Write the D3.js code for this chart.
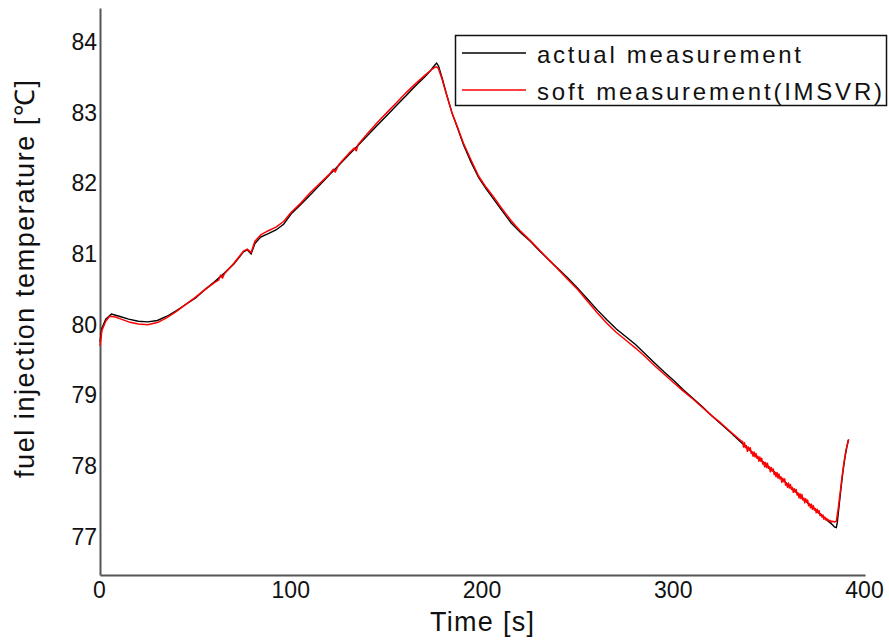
<!DOCTYPE html>
<html><head><meta charset="utf-8">
<script src="https://cdn.jsdelivr.net/npm/d3@7"></script>
<style>body{margin:0;background:#fff}svg{display:block}text{font-family:Arial,"Liberation Sans",sans-serif;fill:#111}</style>
</head><body><svg id="c" width="889" height="643"></svg>
<script>
const xTicks=[0,100,200,300,400];
const yTicks=[77,78,79,80,81,82,83,84];
const seriesNames=["actual measurement","soft measurement(IMSVR)"];
const timeActual=[0,1,3,6,10,15,20,25,30,35,40,45,50,55,60,65,70,75,77,79,81,84,88,92,96,100,105,110,115,120,125,130,135,140,145,150,155,160,165,170,173,175,176,177,179,181,184,187,190,194,198,202,206,210,215,220,225,230,235,240,245,250,255,260,265,270,275,280,285,290,295,300,305,310,315,320,325,330,335,340,345,350,355,360,365,370,375,380,383,384,385,385.5,386.5,387.5,388.5,389.5,390.5,391.3];
const tempActual=[79.76,79.95,80.08,80.15,80.12,80.08,80.05,80.04,80.06,80.12,80.20,80.29,80.38,80.50,80.61,80.73,80.86,81.03,81.06,81.00,81.15,81.24,81.29,81.34,81.42,81.57,81.70,81.84,81.98,82.12,82.26,82.40,82.54,82.68,82.82,82.96,83.10,83.24,83.38,83.51,83.60,83.67,83.70,83.66,83.48,83.28,83.00,82.78,82.55,82.30,82.08,81.92,81.77,81.62,81.44,81.30,81.18,81.04,80.91,80.78,80.65,80.51,80.36,80.21,80.07,79.94,79.83,79.72,79.59,79.46,79.33,79.21,79.08,78.96,78.84,78.71,78.59,78.47,78.34,78.22,78.10,77.98,77.86,77.73,77.61,77.48,77.36,77.24,77.17,77.14,77.13,77.20,77.45,77.70,77.93,78.12,78.27,78.37];
const timeSoft=[0,1,3,5,8,10,15,20,25,30,35,40,45,50,55,60,62,63,64,65,70,75,77,79,81,84,88,92,96,100,105,110,115,120,122,123,125,130,133,134,135,140,145,150,155,160,165,170,173,175,176,177,179,181,184,187,190,194,198,202,206,210,215,220,225,230,235,240,245,250,255,260,265,270,275,280,285,290,295,300,305,310,315,320,325,330,335,
336,336.5,337,337.5,338,338.5,339,339.5,340,340.5,341,341.5,342,342.5,343,343.5,344,344.5,345,345.5,346,346.5,347,347.5,348,348.5,349,349.5,350,350.5,351,351.5,352,352.5,353,353.5,354,354.5,355,355.5,356,356.5,357,357.5,358,358.5,359,359.5,360,360.5,361,361.5,362,362.5,363,363.5,364,364.5,365,365.5,366,366.5,367,367.5,368,368.5,369,369.5,370,370.5,371,371.5,372,372.5,373,373.5,374,374.5,375,375.5,376,376.5,377,377.5,378,378.5,379,379.5,380,380.5,381,381.5,382,382.5,383,384,385,386,387,388,389,390,391,391.5];
const tempSoft=[79.70,79.92,80.05,80.12,80.11,80.09,80.04,80.01,80.00,80.03,80.10,80.19,80.29,80.39,80.50,80.60,80.63,80.70,80.66,80.72,80.87,81.04,81.07,81.02,81.18,81.27,81.33,81.38,81.46,81.59,81.72,81.87,82.00,82.13,82.20,82.16,82.27,82.42,82.50,82.46,82.55,82.71,82.86,83.00,83.14,83.28,83.41,83.53,83.60,83.64,83.65,83.62,83.46,83.27,83.00,82.79,82.57,82.33,82.10,81.94,81.80,81.65,81.47,81.32,81.19,81.05,80.91,80.77,80.63,80.49,80.33,80.17,80.02,79.89,79.78,79.67,79.55,79.42,79.30,79.18,79.06,78.95,78.83,78.71,78.60,78.48,78.36,
78.35,78.27,78.33,78.26,78.29,78.21,78.27,78.22,78.26,78.18,78.20,78.14,78.20,78.13,78.18,78.11,78.14,78.07,78.13,78.07,78.11,78.03,78.06,77.99,78.05,77.98,78.04,77.97,77.99,77.92,77.98,77.93,77.96,77.88,77.91,77.85,77.91,77.83,77.89,77.82,77.85,77.77,77.83,77.78,77.82,77.73,77.76,77.70,77.76,77.69,77.74,77.67,77.70,77.63,77.68,77.63,77.67,77.59,77.62,77.55,77.61,77.54,77.60,77.52,77.55,77.48,77.54,77.49,77.52,77.44,77.47,77.41,77.46,77.39,77.44,77.38,77.40,77.34,77.39,77.34,77.37,77.30,77.32,77.28,77.31,77.25,77.28,77.24,77.26,77.23,77.24,77.22,77.23,77.21,77.22,77.21,77.22,77.40,77.62,77.85,78.05,78.22,78.33,78.38];

const svg=d3.select("#c");
const L=100,R=865,T=8,B=575;
const x=d3.scaleLinear().domain([0,400]).range([L,R]);
const y=d3.scaleLinear().domain([76.46,84.48]).range([B,T]);

// axes
const xa=svg.append("g").attr("transform",`translate(0,${B})`).call(d3.axisBottom(x).tickValues(xTicks).tickSize(0).tickPadding(6).tickFormat(d3.format("d")));
xa.select(".domain").attr("stroke","#555").attr("stroke-width",2);
xa.selectAll("text").attr("font-size",23).attr("fill","#111").attr("dy","0.72em").attr("dx",-1);
const ya=svg.append("g").attr("transform",`translate(${L},0)`).call(d3.axisLeft(y).tickValues(yTicks).tickSize(0).tickPadding(3).tickFormat(d3.format("d")));
ya.select(".domain").attr("stroke","#555").attr("stroke-width",2);
ya.selectAll("text").attr("font-size",23).attr("fill","#111");

const line=d3.line().x(d=>x(d[0])).y(d=>y(d[1]));
svg.append("path").datum(timeActual.map((t,i)=>[t,tempActual[i]])).attr("d",line).attr("fill","none").attr("stroke","#000").attr("stroke-width",1.4);
svg.append("path").datum(timeSoft.map((t,i)=>[t,tempSoft[i]])).attr("d",line).attr("fill","none").attr("stroke","#ff0000").attr("stroke-width",1.5).attr("stroke-linejoin","round");

// titles
svg.append("text").attr("x",482).attr("y",631).attr("text-anchor","middle").attr("font-size",27).attr("textLength",104).attr("lengthAdjust","spacing").text("Time [s]");
svg.append("text").attr("transform","translate(34,279) rotate(-90)").attr("text-anchor","middle").attr("font-size",27).attr("textLength",398).attr("lengthAdjust","spacing").text("fuel injection temperature [℃]");

// legend
const lg=svg.append("g");
lg.append("rect").attr("x",455.5).attr("y",35.5).attr("width",431).attr("height",70).attr("fill","#fff").attr("stroke","#111").attr("stroke-width",1.5);
const cols=["#000","#ff0000"], rowsY=[53,90], lens=[264,345];
seriesNames.forEach((n,i)=>{
  lg.append("line").attr("x1",462).attr("x2",526).attr("y1",rowsY[i]).attr("y2",rowsY[i]).attr("stroke",cols[i]).attr("stroke-width",1.5);
  lg.append("text").attr("x",537).attr("y",rowsY[i]+10).attr("font-size",24).attr("textLength",lens[i]).attr("lengthAdjust","spacing").text(n);
});
</script></body></html>
